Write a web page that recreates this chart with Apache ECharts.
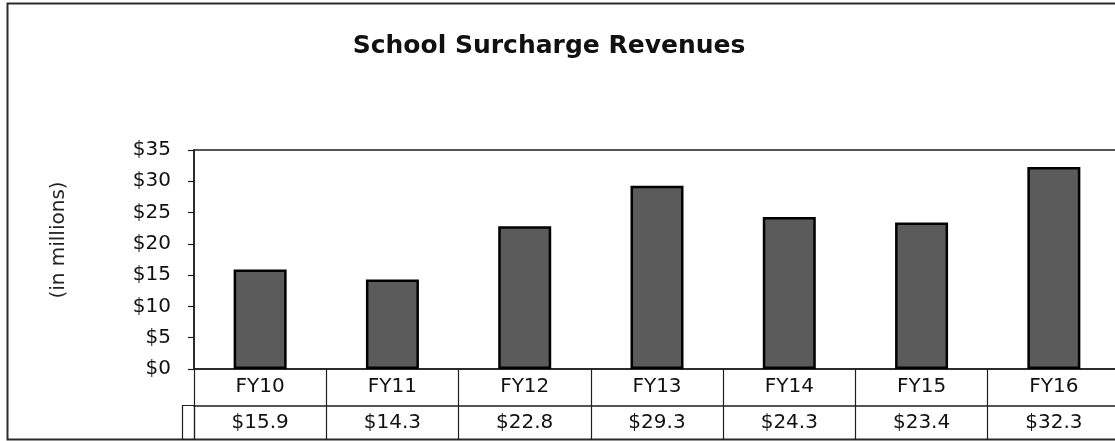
<!DOCTYPE html>
<html>
<head>
<meta charset="utf-8">
<title>School Surcharge Revenues</title>
<script src="https://cdn.jsdelivr.net/npm/echarts@6/dist/echarts.min.js"></script>
<style>
  html, body { margin: 0; padding: 0; background: #fff; overflow: hidden; }
  /* the original plot runs a few pixels past the right edge of the picture */
  #chart { width: 1122px; height: 441px; }
</style>
</head>
<body>
<div id="chart"></div>
<script>
// data (in millions)
const years = ["FY10", "FY11", "FY12", "FY13", "FY14", "FY15", "FY16"];
const revenue = [15.9, 14.3, 22.8, 29.3, 24.3, 23.4, 32.3];
const yTicks = [0, 5, 10, 15, 20, 25, 30, 35];

const font = "DejaVu Sans";
const ink = "#111";
const rule = "#1e1e1e";

const chart = echarts.init(document.getElementById("chart"));
chart.setOption({
  animation: false,
  backgroundColor: "#fff",
  title: {
    text: "School Surcharge Revenues",
    left: 549,
    textAlign: "center",
    top: 34,
    padding: 0,
    textStyle: { fontFamily: font, fontSize: 25, fontWeight: "bold", color: ink },
  },
  grid: {
    left: 194,
    top: 150,
    right: 2,
    bottom: 72,
    show: true,
    borderColor: rule,
    borderWidth: 1.5,
  },
  xAxis: [
    {
      type: "category",
      data: years,
      position: "bottom",
      axisLine: { show: true, lineStyle: { color: rule, width: 1.5 } },
      // tick marks at the category edges make the table's column lines
      axisTick: { show: true, length: 71, interval: 0, lineStyle: { color: rule, width: 1.2 } },
      axisLabel: { margin: 8, fontFamily: font, fontSize: 20, color: ink },
    },
    {
      type: "category",
      data: years,
      position: "bottom",
      offset: 37,
      axisLine: { show: true, lineStyle: { color: rule, width: 1.5 } },
      axisTick: { show: false },
      axisLabel: {
        margin: 7,
        fontFamily: font,
        fontSize: 20,
        color: ink,
        formatter: (v, i) => "$" + revenue[i].toFixed(1),
      },
    },
  ],
  yAxis: {
    type: "value",
    min: yTicks[0],
    max: yTicks[yTicks.length - 1],
    interval: 5,
    splitLine: { show: false },
    axisLine: { show: true, lineStyle: { color: rule, width: 1.5 } },
    axisTick: { show: true, length: 6, lineStyle: { color: rule, width: 1.2 } },
    axisLabel: {
      margin: 23,
      fontFamily: font,
      fontSize: 20,
      color: ink,
      formatter: (v) => "$" + v,
    },
  },
  series: [
    {
      type: "bar",
      data: revenue,
      barWidth: 53,
      itemStyle: { color: "#5b5b5b", borderColor: "#000", borderWidth: 2.5 },
    },
  ],
  graphic: [
    // outer frame
    {
      type: "rect",
      shape: { x: 7.5, y: 3.5, width: 1130, height: 436 },
      style: { fill: null, stroke: "#2a2a2a", lineWidth: 2 },
      silent: true,
    },
    // small left cell of the value row
    {
      type: "rect",
      shape: { x: 182.5, y: 405.5, width: 12, height: 34 },
      style: { fill: null, stroke: rule, lineWidth: 1.2 },
      silent: true,
    },
    {
      type: "text",
      x: 59,
      y: 240,
      rotation: Math.PI / 2,
      style: {
        text: "(in millions)",
        fontFamily: font,
        fontSize: 20,
        fill: "#222",
        align: "center",
        verticalAlign: "middle",
      },
    },
  ],
});
</script>
</body>
</html>
